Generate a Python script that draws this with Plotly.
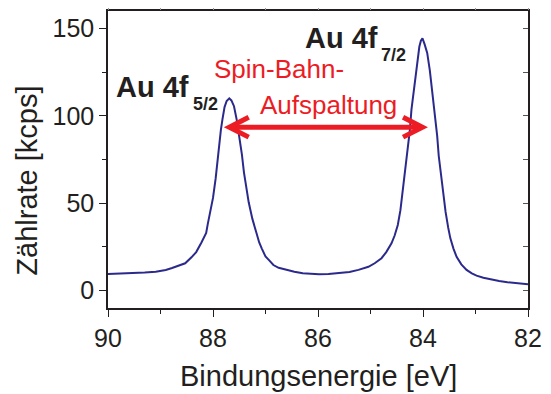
import plotly.graph_objects as go

# Binding energy [eV] and count rate [kcps]
energy = [90.00, 89.80, 89.53, 89.30, 89.09, 88.90, 88.78, 88.66, 88.53, 88.41,
          88.32, 88.22, 88.13, 88.10, 88.05, 88.00, 87.95, 87.92, 87.88, 87.85,
          87.82, 87.78, 87.74, 87.69, 87.65, 87.60, 87.55, 87.50, 87.45, 87.41,
          87.36, 87.32, 87.25, 87.19, 87.12, 87.07, 87.00, 86.92, 86.85, 86.75,
          86.60, 86.45, 86.29, 86.10, 85.98, 85.80, 85.60, 85.40, 85.23, 85.04,
          84.92, 84.79, 84.70, 84.60, 84.54, 84.48, 84.43, 84.39, 84.34, 84.29,
          84.25, 84.22, 84.17, 84.13, 84.07, 84.04, 84.01, 83.97, 83.92, 83.87,
          83.82, 83.77, 83.73, 83.70, 83.66, 83.62, 83.57, 83.52, 83.48, 83.42,
          83.36, 83.27, 83.17, 83.07, 82.98, 82.85, 82.73, 82.55, 82.39, 82.20,
          82.00]
counts = [9.5, 9.7, 9.9, 10.3, 10.8, 11.8, 12.9, 14.4, 15.6, 19.0,
          22.0, 27.5, 33.0, 38.0, 45.0, 53.0, 64.0, 73.0, 83.0, 92.0,
          98.0, 105.0, 108.5, 110.0, 108.8, 105.5, 98.0, 89.0, 78.0, 67.5,
          58.0, 50.5, 41.0, 34.0, 27.5, 24.0, 19.5, 17.0, 14.6, 13.0,
          11.8, 10.8, 9.9, 9.5, 9.3, 9.5, 9.9, 10.6, 11.8, 13.6,
          15.6, 18.5, 22.0, 27.0, 31.5, 37.5, 46.0, 56.0, 67.0, 79.0,
          92.0, 103.5, 116.0, 128.0, 139.5, 143.0, 144.3, 141.0, 136.0, 126.0,
          113.0, 100.0, 88.5, 77.0, 66.0, 55.0, 45.0, 36.0, 30.0, 24.0,
          19.3, 15.0, 11.8, 9.8, 8.5, 7.3, 6.5, 5.5, 4.8, 4.1,
          3.6]

x_ticks = [90, 88, 86, 84, 82]
y_ticks = [0, 50, 100, 150]
x_range = [90, 82]
y_range = [-10, 160]

peak_52 = (87.69, 110.0)
peak_72 = (84.01, 144.3)
arrow_y = 93.5

FONT = "Liberation Sans, Arial, sans-serif"
RED = "#ED1C24"
BLUE = "#2B2A8C"
INK = "#231F20"

fig = go.Figure()
fig.add_trace(go.Scatter(x=energy, y=counts, mode="lines",
                         line=dict(color=BLUE, width=2), showlegend=False))

fig.update_layout(
    width=551, height=394,
    margin=dict(l=108, r=15, t=9, b=86),
    paper_bgcolor="white", plot_bgcolor="white",
    font=dict(family=FONT, color=INK),
    xaxis=dict(range=x_range, tickvals=x_ticks, ticks="outside", ticklen=7,
               tickwidth=1.2, tickcolor=INK,
               minor=dict(dtick=1, ticks="outside", ticklen=4, tickcolor=INK),
               showline=True, linecolor=INK, linewidth=1.5, mirror=True,
               showgrid=False, zeroline=False,
               tickfont=dict(size=25, family=FONT, color=INK)),
    yaxis=dict(range=y_range, tickvals=y_ticks, ticks="outside", ticklen=7,
               tickwidth=1.2, tickcolor=INK,
               minor=dict(dtick=25, ticks="outside", ticklen=4, tickcolor=INK),
               showline=True, linecolor=INK, linewidth=1.5, mirror=True,
               showgrid=False, zeroline=False,
               tickfont=dict(size=25, family=FONT, color=INK)),
    xaxis2=dict(range=x_range, overlaying="x", side="top", anchor="y",
                dtick=1, tick0=82, ticks="outside", ticklen=2, tickcolor="#999999",
                showticklabels=False, showgrid=False, zeroline=False),
    yaxis2=dict(range=y_range, overlaying="y", side="right", anchor="x",
                dtick=25, tick0=0, ticks="inside", ticklen=5, tickcolor="#555555",
                showticklabels=False, showgrid=False, zeroline=False),
)
# invisible trace so the overlay axes are drawn
fig.add_trace(go.Scatter(x=[energy[0]], y=[counts[0]], xaxis="x2", yaxis="y2",
                         mode="markers", marker=dict(opacity=0), showlegend=False,
                         hoverinfo="skip"))

# axis titles
fig.add_annotation(text="Bindungsenergie [eV]", xref="paper", yref="paper",
                   x=0.5, y=-0.23, xanchor="center", yanchor="middle",
                   showarrow=False, font=dict(size=29, family=FONT, color=INK))
fig.add_annotation(text="Zählrate [kcps]", xref="paper", yref="paper",
                   x=-0.192, y=0.43, xanchor="center", yanchor="middle", textangle=-90,
                   showarrow=False, font=dict(size=29, family=FONT, color=INK))

# peak labels
fig.add_annotation(text="<b>Au 4f</b>", x=88.41, y=116.6, xref="x", yref="y",
                   xanchor="right", yanchor="middle", showarrow=False,
                   font=dict(size=29, family=FONT, color=INK))
fig.add_annotation(text="<b>5/2</b>", x=88.42, y=106.8, xref="x", yref="y",
                   xanchor="left", yanchor="middle", showarrow=False,
                   font=dict(size=18, family=FONT, color=INK))
fig.add_annotation(text="<b>Au 4f</b>", x=84.82, y=144.8, xref="x", yref="y",
                   xanchor="right", yanchor="middle", showarrow=False,
                   font=dict(size=29, family=FONT, color=INK))
fig.add_annotation(text="<b>7/2</b>", x=84.83, y=134.9, xref="x", yref="y",
                   xanchor="left", yanchor="middle", showarrow=False,
                   font=dict(size=18, family=FONT, color=INK))

# spin-orbit splitting text
fig.add_annotation(text="Spin-Bahn-", x=88.02, y=126.8, xref="x", yref="y",
                   xanchor="left", yanchor="middle", showarrow=False,
                   font=dict(size=26, family=FONT, color=RED))
fig.add_annotation(text="Aufspaltung", x=87.15, y=106.0, xref="x", yref="y",
                   xanchor="left", yanchor="middle", showarrow=False,
                   font=dict(size=26, family=FONT, color=RED))

# double arrow between the peaks
x1, x2 = peak_52[0], peak_72[0]
dx, dy = 0.37, 5.7
fig.add_shape(type="line", x0=x1 - 0.05, x1=x2 + 0.05, y0=arrow_y, y1=arrow_y,
              xref="x", yref="y", line=dict(color=RED, width=5))
fig.add_shape(type="path", xref="x", yref="y",
              path=f"M {x1 - dx},{arrow_y + dy} L {x1},{arrow_y} L {x1 - dx},{arrow_y - dy}",
              line=dict(color=RED, width=5))
fig.add_shape(type="path", xref="x", yref="y",
              path=f"M {x2 + dx},{arrow_y + dy} L {x2},{arrow_y} L {x2 + dx},{arrow_y - dy}",
              line=dict(color=RED, width=5))

fig.write_html("out.html")
